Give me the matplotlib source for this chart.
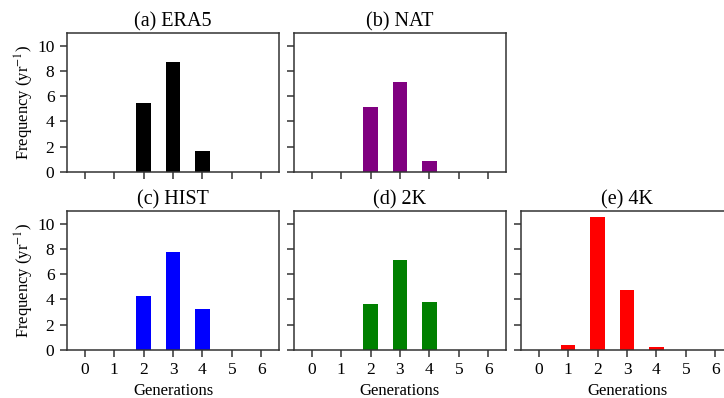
import matplotlib
matplotlib.use('Agg')
import matplotlib.pyplot as plt

plt.rcParams['font.family'] = ['Liberation Serif', 'DejaVu Serif']
plt.rcParams['mathtext.fontset'] = 'stix'

generations = [0, 1, 2, 3, 4, 5, 6]
era5 = [0, 0, 5.45, 8.72, 1.67, 0, 0]
nat = [0, 0, 5.12, 7.13, 0.9, 0, 0]
hist = [0, 0, 4.25, 7.72, 3.22, 0, 0]
k2 = [0, 0, 3.62, 7.13, 3.8, 0, 0]
k4 = [0, 0.43, 10.52, 4.78, 0.2, 0, 0]

panels = [
    ('(a) ERA5', era5, 'black'),
    ('(b) NAT', nat, 'purple'),
    ('(c) HIST', hist, 'blue'),
    ('(d) 2K', k2, 'green'),
    ('(e) 4K', k4, 'red'),
]

W, H = 724, 398
fig = plt.figure(figsize=(W / 100, H / 100), dpi=100)

# axes boxes in pixels: left, top
ax_w, ax_h = 212, 139
boxes = [(67, 33), (294, 33), (67, 211), (294, 211), (521, 211)]

for i, (title, vals, col) in enumerate(panels):
    x0, y0 = boxes[i]
    ax = fig.add_axes([x0 / W, 1 - (y0 + ax_h) / H, ax_w / W, ax_h / H])
    ax.bar(generations, vals, width=0.5, color=col)
    ax.set_xlim(-0.6, 6.6)
    ax.set_ylim(0, 11)
    ax.set_xticks(generations)
    ax.set_yticks([0, 2, 4, 6, 8, 10])
    ax.set_title(title, fontsize=14.5, pad=5)
    for s in ax.spines.values():
        s.set_color('#333333')
        s.set_linewidth(1.1)
    ax.tick_params(colors='#333333', labelcolor='black', labelsize=12.5,
                   width=1.1, length=5, pad=4)
    if i in (0, 1):
        ax.set_xticklabels([])
    else:
        ax.set_xlabel('Generations', fontsize=12, labelpad=3)
    if i in (0, 2):
        ax.set_ylabel('Frequency (yr$^{-1}$)', fontsize=12, labelpad=1)
    else:
        ax.set_yticklabels([])

fig.savefig('out.png', dpi=100)
